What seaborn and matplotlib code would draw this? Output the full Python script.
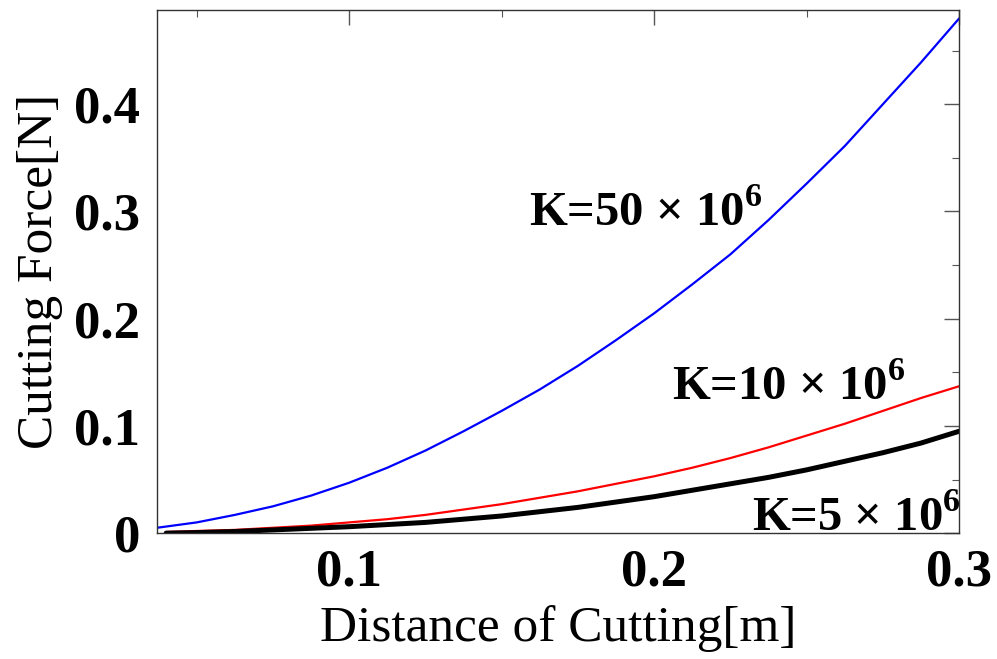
import pandas as pd
import matplotlib
matplotlib.use("Agg")
import matplotlib.pyplot as plt
import seaborn as sns
from matplotlib.ticker import MultipleLocator, FuncFormatter

# datos
distancia = [0.04, 0.05, 0.0625, 0.075, 0.0875, 0.1, 0.1125, 0.125, 0.1375, 0.15, 0.1625,
             0.175, 0.1875, 0.2, 0.2125, 0.225, 0.2375, 0.25, 0.2625, 0.275, 0.2875, 0.3]
distancia_k50 = [0.037] + distancia[1:]
fuerza_k50 = [0.005, 0.010, 0.017, 0.025, 0.035, 0.047, 0.061, 0.077, 0.095, 0.114, 0.134,
              0.156, 0.180, 0.205, 0.232, 0.260, 0.292, 0.326, 0.361, 0.400, 0.439, 0.480]
fuerza_k10 = [0.001, 0.002, 0.003, 0.005, 0.007, 0.010, 0.013, 0.017, 0.022, 0.027, 0.033,
              0.039, 0.046, 0.053, 0.061, 0.070, 0.080, 0.091, 0.102, 0.114, 0.126, 0.137]
fuerza_k5 = [0.0, 0.0005, 0.0015, 0.003, 0.0045, 0.006, 0.008, 0.010, 0.013, 0.016, 0.020,
             0.024, 0.029, 0.034, 0.040, 0.046, 0.052, 0.059, 0.067, 0.075, 0.084, 0.095]

series = {"K50": (distancia_k50, fuerza_k50), "K10": (distancia, fuerza_k10),
          "K5": (distancia, fuerza_k5)}
colores = {"K50": "#0000ff", "K10": "#ff0000", "K5": "#000000"}
grosores = {"K50": 1.6, "K10": 1.6, "K5": 3.6}

df = pd.DataFrame([
    {"serie": s, "x": x, "y": y}
    for s, (xs, ys) in series.items() for x, y in zip(xs, ys)
])

sns.set_theme(style="white")
plt.rcParams["font.family"] = ["Liberation Serif", "DejaVu Serif"]
plt.rcParams["mathtext.fontset"] = "custom"
plt.rcParams["mathtext.rm"] = "Liberation Serif"
plt.rcParams["mathtext.bf"] = "Liberation Serif:bold"
plt.rcParams["text.color"] = "black"
plt.rcParams["axes.labelcolor"] = "black"

fig = plt.figure(figsize=(9.97, 6.59), dpi=100)
ax = fig.add_axes([0.1575, 0.191, 0.8045, 0.794])

for s in series:
    sns.lineplot(data=df[df["serie"] == s], x="x", y="y", color=colores[s],
                 linewidth=grosores[s], ax=ax, legend=False, sort=True)

ax.set_xlim(0.037, 0.3)
ax.set_ylim(0, 0.488)

ax.xaxis.set_major_locator(MultipleLocator(0.1))
ax.xaxis.set_minor_locator(MultipleLocator(0.05))
ax.yaxis.set_major_locator(MultipleLocator(0.1))
ax.yaxis.set_minor_locator(MultipleLocator(0.05))
fmt = FuncFormatter(lambda v, p: "0" if abs(v) < 1e-9 else f"{v:.1f}")
ax.xaxis.set_major_formatter(fmt)
ax.yaxis.set_major_formatter(fmt)

ax.tick_params(which="both", direction="in", top=True, right=True,
               color="#555555", labelcolor="black")
ax.tick_params(axis="x", which="major", length=11, width=1.0, pad=11)
ax.tick_params(axis="y", which="major", length=11, width=1.0, pad=12)
ax.tick_params(which="minor", length=5, width=0.8)
for lab in ax.get_xticklabels() + ax.get_yticklabels():
    lab.set_fontsize(38)
    lab.set_fontweight("bold")

for sp in ax.spines.values():
    sp.set_color("#333333")
    sp.set_linewidth(1.0)

ax.set_xlabel("Distance of Cutting[m]", fontsize=37, labelpad=6)
ax.set_ylabel("Cutting Force[N]", fontsize=37, labelpad=8)

etiq = dict(fontsize=35, fontweight="bold", ha="left", va="center")
ax.text(0.159, 0.298, r"K=50 × 10$^{\mathbf{6}}$", **etiq)
ax.text(0.206, 0.136, r"K=10 × 10$^{\mathbf{6}}$", **etiq)
ax.text(0.232, 0.014, r"K=5 × 10$^{\mathbf{6}}$", **etiq)

fig.savefig("out.png", dpi=100)
